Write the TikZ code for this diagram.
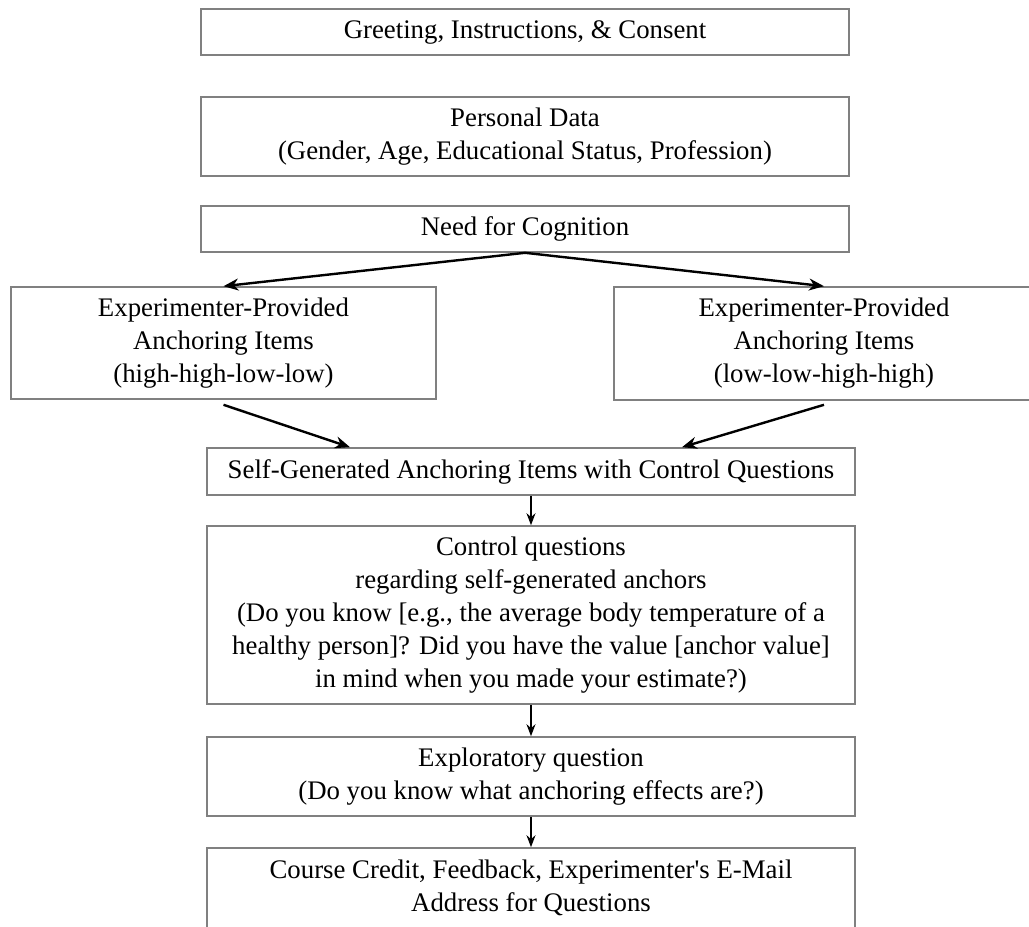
\documentclass[tikz,border=0pt]{standalone}
\usepackage{fontspec}
\setmainfont{Liberation Serif}
\usetikzlibrary{arrows.meta}
\definecolor{vora}{HTML}{808080}
\tikzset{
  caixa/.style={draw=vora, line width=.8pt, fill=white, align=center,
    inner sep=0pt, minimum width=324pt, font=\fontsize{13.4}{16.5}\selectfont},
  fletxa/.style={-{Stealth[length=7.5pt,width=6pt]}, line width=1.2pt},
  pas/.style={-{Stealth[length=6pt,width=4.5pt]}, line width=.8pt},
}

\begin{document}
\begin{tikzpicture}[x=.5pt,y=-.5pt]
  \useasboundingbox (0,0) rectangle (1029,927);
  \clip (0,0) rectangle (1029,927);

  \node[caixa, minimum height=23pt] (salut) at (525,32)
    {Greeting, Instructions, \& Consent};
  \node[caixa, minimum height=39.5pt] (dades) at (525,136.5)
    {Personal Data\\(Gender, Age, Educational Status, Profession)};
  \node[caixa, minimum height=23pt] (cognicio) at (525,229)
    {Need for Cognition};

  \node[caixa, minimum width=212.5pt, minimum height=56pt] (expa) at (223.5,343)
    {Experimenter-Provided\\Anchoring Items\\(high-high-low-low)};
  \node[caixa, minimum width=210pt, minimum height=56.5pt] (expb) at (824,343.5)
    {Experimenter-Provided\\Anchoring Items\\(low-low-high-high)};

  \node[caixa, minimum height=23.5pt] (autogen) at (531,471.5)
    {Self-Generated Anchoring Items with Control Questions};
  \node[caixa, minimum height=89pt] (control) at (531,615)
    {Control questions\\regarding self-generated anchors\\
     (Do you know [e.g., the average body temperature of a\\
     healthy person]? Did you have the value [anchor value]\\
     in mind when you made your estimate?)};
  \node[caixa, minimum height=39.5pt] (explora) at (531,776.5)
    {Exploratory question\\(Do you know what anchoring effects are?)};
  \node[caixa, minimum height=40pt] (credit) at (531,888)
    {Course Credit, Feedback, Experimenter\textquotesingle s E-Mail\\Address for Questions};

  % fletxes
  \draw[fletxa] (cognicio.south) -- (expa.north);
  \draw[fletxa] (cognicio.south) -- (expb.north);
  \draw[fletxa] ([yshift=-2.5pt]expa.south) -- ([xshift=-90.5pt]autogen.north);
  \draw[fletxa] ([yshift=-2pt]expb.south) -- ([xshift=75.5pt]autogen.north);
  \draw[pas] (autogen) -- (control);
  \draw[pas] (control) -- (explora);
  \draw[pas] (explora) -- (credit);
\end{tikzpicture}
\end{document}
